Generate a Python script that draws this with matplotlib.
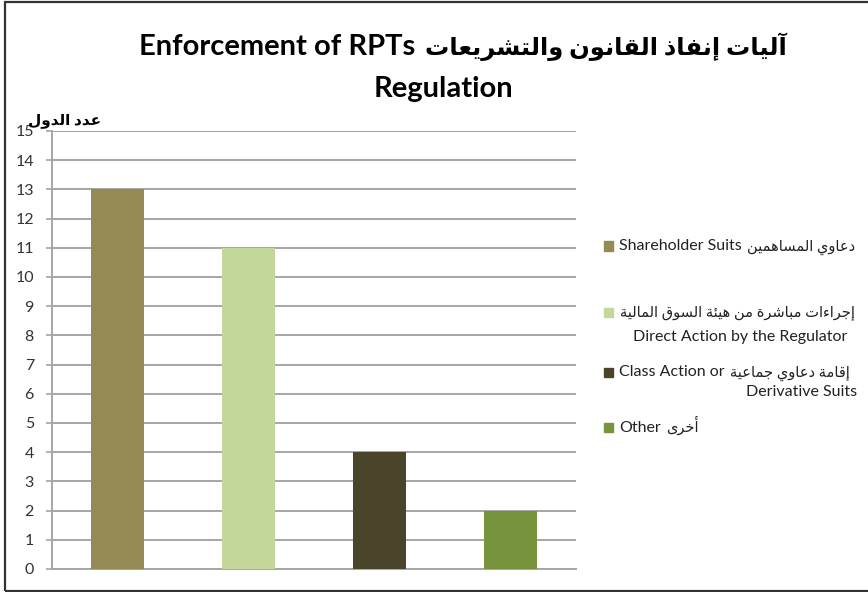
import matplotlib
matplotlib.use("Agg")
import matplotlib.pyplot as plt
from matplotlib.patches import Rectangle

plt.rcParams["font.family"] = ["Lato", "DejaVu Sans"]

# data
values = [13, 11, 4, 2]
colors = ["#948A54", "#C4D79B", "#4A452A", "#77933C"]
y_ticks = list(range(0, 16))

title_en = "Enforcement of RPTs"
title_en2 = "Regulation"
title_ar = "آليات إنفاذ القانون والتشريعات"
ylabel_ar = "عدد الدول"

legend_en = ["Shareholder Suits", "Direct Action by the Regulator",
             "Class Action or", "Other"]
legend_en2 = ["", "", "Derivative Suits", ""]
legend_ar = ["دعاوي المساهمين", "إجراءات مباشرة من هيئة السوق المالية",
             "إقامة دعاوي جماعية", "أخرى"]

# minimal arabic shaping (presentation forms), since matplotlib does no shaping
FORMS = {
    "ء": (0xFE80, 1), "آ": (0xFE81, 2), "أ": (0xFE83, 2), "إ": (0xFE87, 2),
    "ئ": (0xFE89, 4), "ا": (0xFE8D, 2), "ب": (0xFE8F, 4), "ة": (0xFE93, 2),
    "ت": (0xFE95, 4), "ج": (0xFE9D, 4), "خ": (0xFEA5, 4), "د": (0xFEA9, 2),
    "ذ": (0xFEAB, 2), "ر": (0xFEAD, 2), "س": (0xFEB1, 4), "ش": (0xFEB5, 4),
    "ع": (0xFEC9, 4), "ف": (0xFED1, 4), "ق": (0xFED5, 4), "ل": (0xFEDD, 4),
    "م": (0xFEE1, 4), "ن": (0xFEE5, 4), "ه": (0xFEE9, 4), "و": (0xFEED, 2),
    "ى": (0xFEEF, 2), "ي": (0xFEF1, 4),
}
LAM_ALEF = {"آ": 0xFEF5, "أ": 0xFEF7, "إ": 0xFEF9, "ا": 0xFEFB}


def ar(text):
    toks = []
    i = 0
    while i < len(text):
        c = text[i]
        if c == "ل" and i + 1 < len(text) and text[i + 1] in LAM_ALEF:
            toks.append((LAM_ALEF[text[i + 1]], 2))
            i += 2
        elif c in FORMS:
            toks.append(FORMS[c])
            i += 1
        else:
            toks.append((c, 0))
            i += 1
    out = []
    for k, (base, n) in enumerate(toks):
        if n == 0:
            out.append(base)
            continue
        prev = toks[k - 1] if k > 0 else None
        nxt = toks[k + 1] if k + 1 < len(toks) else None
        jp = prev is not None and prev[1] == 4
        jn = n == 4 and nxt is not None and nxt[1] >= 2
        if n == 1:
            off = 0
        elif n == 2:
            off = 1 if jp else 0
        else:
            off = 3 if (jp and jn) else 1 if jp else 2 if jn else 0
        out.append(chr(base + off))
    return "".join(out)[::-1]


W, H = 868, 592
fig = plt.figure(figsize=(W / 100, H / 100), dpi=100)
ax = fig.add_axes([52 / W, 23 / H, 524 / W, 438 / H])

x = list(range(len(values)))
ax.bar(x, values, width=0.4, color=colors, zorder=3)
ax.set_xlim(-0.5, 3.5)
ax.set_ylim(0, 15)
ax.set_yticks(y_ticks)
ax.set_xticks([])
ax.grid(axis="y", color="#a6a6a6", linewidth=1.4, zorder=0)
for s in ["top", "right"]:
    ax.spines[s].set_visible(False)
for s in ["left", "bottom"]:
    ax.spines[s].set_color("#a6a6a6")
    ax.spines[s].set_linewidth(1.4)
ax.tick_params(axis="y", length=4, width=1.2, color="#a6a6a6", pad=9,
               labelsize=11.5, labelcolor="#333333")

# titles
fig.text(415 / W, 1 - 55 / H, title_en, ha="right", va="baseline",
         fontsize=21, fontweight="bold")
fig.text(425 / W, 1 - 55 / H, ar(title_ar), ha="left", va="baseline",
         fontsize=17.5, fontweight="bold")
fig.text(443 / W, 1 - 97 / H, title_en2, ha="center", va="baseline",
         fontsize=21, fontweight="bold")
fig.text(65 / W, 1 - 121 / H, ar(ylabel_ar), ha="center", va="center",
         fontsize=11, fontweight="bold")

# legend (drawn by hand: english and arabic parts in different sizes)
renderer = fig.canvas.get_renderer()
rows = [246, 312, 372, 427]
rows2 = [None, 336, 392, None]
right2 = [None, 847, 857, None]
en_size, ar_size = 11.5, 10.5
for i in range(len(values)):
    y = 1 - rows[i] / H
    yb = 1 - (rows[i] + 4.5) / H
    fig.add_artist(Rectangle((604 / W, y - 4.5 / H), 9 / W, 9 / H,
                             transform=fig.transFigure, color=colors[i]))
    if i == 1:
        fig.text(620 / W, yb, ar(legend_ar[i]), ha="left", va="baseline",
                 fontsize=ar_size, color="#222222")
        second = legend_en[i]
    else:
        t = fig.text(619 / W, yb, legend_en[i], ha="left", va="baseline",
                     fontsize=en_size, color="#222222")
        x1 = t.get_window_extent(renderer).x1
        fig.text((x1 + 5) / W, yb, ar(legend_ar[i]), ha="left",
                 va="baseline", fontsize=ar_size, color="#222222")
        second = legend_en2[i]
    if second:
        fig.text(right2[i] / W, 1 - (rows2[i] + 4.5) / H, second, ha="right",
                 va="baseline", fontsize=en_size, color="#222222")

# outer frame
fig.add_artist(Rectangle((5 / W, 1.5 / H), 1.0, 589 / H,
                         transform=fig.transFigure, fill=False,
                         ec="#333333", lw=1.6))

fig.savefig("out.png", dpi=100)
